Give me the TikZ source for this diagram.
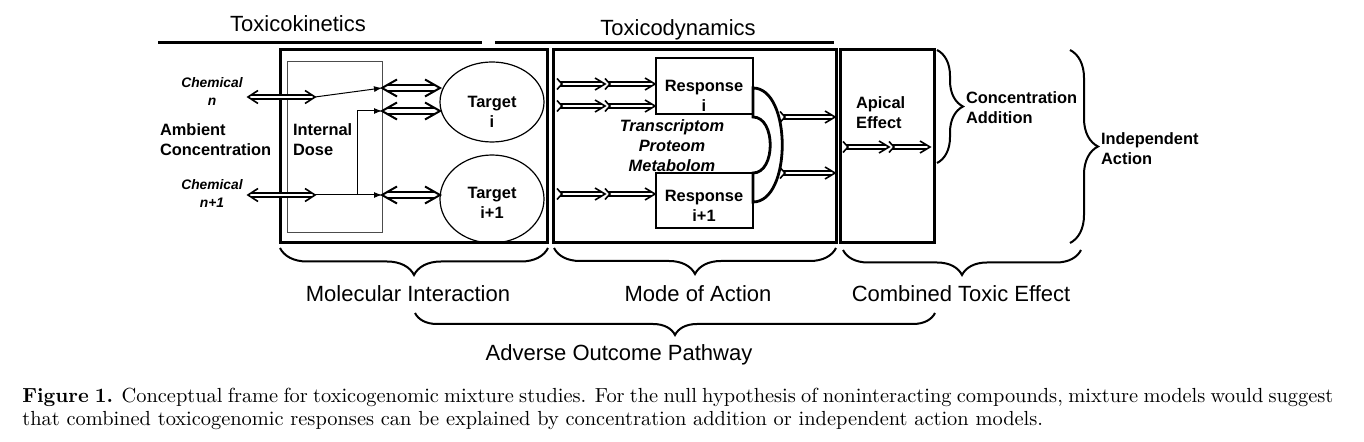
\documentclass[tikz,border=0pt]{standalone}
\usepackage{fontspec}
\setsansfont{Liberation Sans}
\usetikzlibrary{calc,arrows.meta,decorations.pathreplacing,shapes.geometric}

\tikzset{
  sidebrace/.style={decorate, decoration={brace, amplitude=#1}, line width=1pt},
  underbrace/.style={decorate, decoration={brace, mirror, amplitude=#1}, line width=1pt},
  boxline/.style={line width=1.5pt},
  txt/.style={font=\sffamily\fontsize{11}{13}\selectfont},
  boldlbl/.style={font=\sffamily\bfseries\fontsize{8.2}{10}\selectfont, align=center},
  chemlbl/.style={font=\sffamily\bfseries\itshape\fontsize{6.9}{9}\selectfont, align=center},
  barb/.style={line width=#1, line join=miter, miter limit=20},
}
% open chevron: vertex, dx, half height, stroke
\newcommand{\chevron}[4]{%
  \draw[barb=#4] ($(#1)+(#2,-#3)$) -- (#1) -- ($(#1)+(#2,#3)$);}
% hollow double-headed arrow, big
\newcommand{\bothways}[2]{%
  \draw[double, double distance=2pt, line width=1pt, shorten <=2.4pt, shorten >=2.4pt] (#1) -- (#2);
  \chevron{#1}{15}{8.5}{1pt}\chevron{#2}{-15}{8.5}{1pt}}
% hollow double-headed arrow, small
\newcommand{\smallways}[2]{%
  \draw[double, double distance=1.4pt, line width=0.8pt, shorten <=1.6pt, shorten >=1.6pt] (#1) -- (#2);
  \chevron{#1}{10}{6.5}{0.8pt}\chevron{#2}{-10}{6.5}{0.8pt}}
% hollow arrow with notched tail
\newcommand{\forward}[2]{%
  \draw[double, double distance=1.2pt, line width=0.8pt, shorten <=1.4pt, shorten >=1.5pt] (#1) -- (#2);
  \draw[barb=0.8pt] ($(#1)+(0,-5.5)$) -- ($(#1)+(5,0)$) -- ($(#1)+(0,5.5)$);
  \chevron{#2}{-10}{6}{0.8pt}}

\begin{document}
\begin{tikzpicture}[x=0.5pt,y=-0.5pt]
  \useasboundingbox (0,0) rectangle (1364,442);
  % headings
  \node[txt, anchor=base] (tk) at (298,32) {Toxicokinetics};
  \node[txt, anchor=base] (td) at (678,36) {Toxicodynamics};
  \draw[line width=1.5pt] (158,43) -- (482,43);
  \draw[line width=1.5pt] (495,43) -- (834,43);

  % frames
  \draw[boxline] (280,50) rectangle (547,243);
  \draw[boxline] (553,50) rectangle (836,243);
  \draw[boxline] (840,50) rectangle (934,243);
  \draw[black!70, line width=0.5pt] (287,62) rectangle (382,233);

  % left part
  \node[chemlbl] (chemn) at (212,92) {Chemical\\n};
  \node[chemlbl] (chemm) at (212,194) {Chemical\\n+1};
  \node[boldlbl, anchor=west, align=left] (ambient) at (153,140) {Ambient\\Concentration};
  \node[boldlbl, anchor=west, align=left] (dose) at (286,140) {Internal\\Dose};
  \node[ellipse, draw, line width=0.6pt, minimum width=52pt, minimum height=40pt] (tgti) at (492,102) {};
  \node[ellipse, draw, line width=0.6pt, minimum width=52pt, minimum height=44pt] (tgtj) at (492,199) {};
  \node[boldlbl] (tgtilbl) at (492,112) {Target\\i};
  \node[boldlbl] (tgtjlbl) at (492,203) {Target\\i+1};

  \coordinate (cna) at (248,97);  \coordinate (cnb) at (315,97);
  \coordinate (cma) at (248,195); \coordinate (cmb) at (315,195);
  \coordinate (split) at (357,195);
  \coordinate (ta) at (382,88);   \coordinate (tb) at (440,88);
  \coordinate (ua) at (382,111);  \coordinate (ub) at (440,111);
  \coordinate (va) at (382,195);  \coordinate (vb) at (440,195);
  \smallways{cna}{cnb}
  \smallways{cma}{cmb}
  \begin{scope}[-{Latex[length=4pt,width=3pt]}, line width=0.5pt]
    \draw (cnb) -- (ta);
    \draw (cmb) -- (va);
    \draw (split) |- (ua);
  \end{scope}
  \bothways{ta}{tb}
  \bothways{ua}{ub}
  \bothways{va}{vb}

  % mode of action
  \node[draw, line width=0.6pt, minimum width=48.5pt, minimum height=28pt] (rspi) at (704.5,86) {};
  \node[draw, line width=0.6pt, minimum width=48.5pt, minimum height=27.5pt] (rspj) at (704.5,200.5) {};
  \node[boldlbl] (rspilbl) at (704,96) {Response\\i};
  \node[boldlbl] (rspjlbl) at (704,206) {Response\\i+1};
  \node[boldlbl, font=\sffamily\bfseries\itshape\fontsize{8.2}{10}\selectfont] (omics) at (672,146) {Transcriptom\\Proteom\\Metabolom};
  \draw[line width=1.4pt] (753,88) .. controls (792,88) and (792,202) .. (753,202)
    -- (753,173) .. controls (776,173) and (776,117) .. (753,117) -- cycle;

  \coordinate (pa) at (557,84);  \coordinate (pb) at (605,84);  \coordinate (pc) at (655,84);
  \coordinate (qa) at (557,106); \coordinate (qb) at (605,106); \coordinate (qc) at (655,106);
  \coordinate (ra) at (557,194); \coordinate (rb) at (605,194); \coordinate (rc) at (655,194);
  \coordinate (sa) at (780,117); \coordinate (sb) at (835,117);
  \coordinate (wa) at (780,173); \coordinate (wb) at (835,173);
  \forward{pa}{pb}
  \forward{pb}{pc}
  \forward{qa}{qb}
  \forward{qb}{qc}
  \forward{ra}{rb}
  \forward{rb}{rc}
  \forward{sa}{sb}
  \forward{wa}{wb}

  % apical effect
  \node[boldlbl, anchor=west, align=left] (apical) at (849,113) {Apical\\Effect};
  \coordinate (xa) at (843,147); \coordinate (xb) at (889,147); \coordinate (xc) at (930,147);
  \forward{xa}{xb}
  \forward{xb}{xc}

  % right braces
  \draw[sidebrace=13pt] (937,50) -- (937,163);
  \node[boldlbl, anchor=west, align=left] (ca) at (959,108) {Concentration\\Addition};
  \draw[sidebrace=14pt] (1070,50) -- (1070,243);
  \node[boldlbl, anchor=west, align=left] (ia) at (1094,149) {Independent\\Action};

  % bottom braces
  \draw[underbrace=13.5pt] (280,248) -- (548,248);
  \draw[underbrace=13pt] (554,248) -- (836,248);
  \draw[underbrace=12.5pt] (843,250) -- (1081,250);
  \draw[underbrace=11pt] (415,313) -- (935,313);
  \node[txt, anchor=base] (mi) at (408,302) {Molecular Interaction};
  \node[txt, anchor=base] (moa) at (698,302) {Mode of Action};
  \node[txt, anchor=base] (cte) at (961,302) {Combined Toxic Effect};
  \node[txt, anchor=base] (aop) at (619,361) {Adverse Outcome Pathway};

  % caption
  \node[anchor=north west, text width=655.5pt, align=justify, inner sep=0pt,
    font=\fontsize{10.2}{11.5}\selectfont] (cap) at (22,388)
    {\textbf{Figure 1.} Conceptual frame for toxicogenomic mixture studies. For the null hypothesis of noninteracting compounds, mixture models would suggest\linebreak that combined toxicogenomic responses can be explained by concentration addition or independent action models.};
\end{tikzpicture}
\end{document}
